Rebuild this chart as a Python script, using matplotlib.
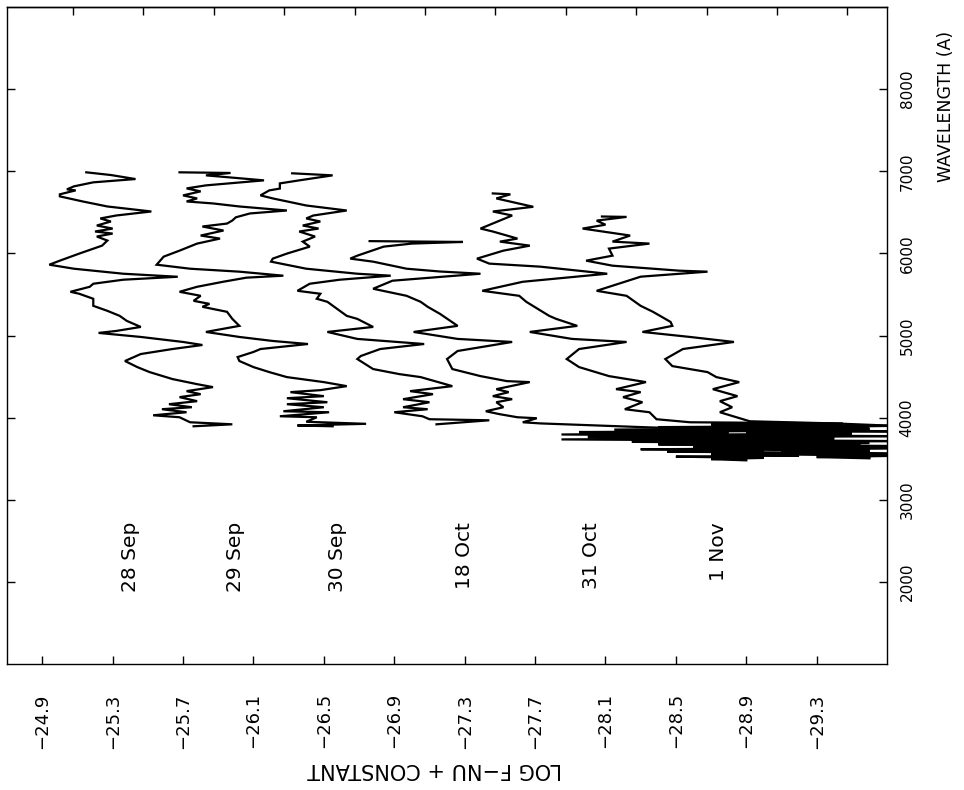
import numpy as np
import matplotlib
matplotlib.use("Agg")
import matplotlib.pyplot as plt

# spectra: wavelength (A) and log f-nu + constant
wl_28sep = [6988, 6955, 6906, 6866, 6817, 6780, 6768, 6720, 6695, 6633, 6572, 6511, 6462, 6426,
            6389, 6340, 6303, 6267, 6242, 6206, 6157, 6095, 5998, 5912, 5863, 5814, 5753, 5716,
            5680, 5631, 5594, 5533, 5509, 5448, 5362, 5301, 5240, 5179, 5105, 5056, 5032, 4983,
            4922, 4885, 4836, 4775, 4690, 4616, 4555, 4470, 4408, 4372, 4323, 4286, 4250, 4201,
            4164, 4127, 4103, 4066, 4029, 4005, 3944, 3919, 3895]
lf_28sep = [-25.15, -25.29, -25.43, -25.19, -25.08, -25.04, -25.09, -25.00, -25.00, -25.13, -25.27,
            -25.52, -25.32, -25.23, -25.29, -25.21, -25.30, -25.20, -25.30, -25.21, -25.27, -25.24,
            -25.11, -25.00, -24.94, -25.08, -25.36, -25.67, -25.36, -25.19, -25.17, -25.06, -25.11,
            -25.19, -25.19, -25.27, -25.34, -25.38, -25.46, -25.32, -25.22, -25.46, -25.70, -25.81,
            -25.64, -25.46, -25.37, -25.44, -25.51, -25.64, -25.78, -25.87, -25.72, -25.80, -25.68,
            -25.78, -25.62, -25.75, -25.58, -25.72, -25.53, -25.68, -25.74, -25.98, -25.76]

wl_29sep = [6988, 6980, 6951, 6890, 6829, 6792, 6756, 6707, 6670, 6633, 6609, 6572, 6523, 6487,
            6440, 6401, 6364, 6328, 6279, 6218, 6181, 6120, 6034, 5961, 5863, 5814, 5778, 5729,
            5705, 5656, 5594, 5533, 5484, 5423, 5386, 5350, 5289, 5203, 5118, 5044, 4983, 4934,
            4897, 4836, 4800, 4738, 4690, 4616, 4555, 4494, 4433, 4384, 4335, 4311, 4262, 4237,
            4188, 4164, 4127, 4078, 4066, 4017, 4005, 3950, 3925, 3905, 3895]
lf_29sep = [-25.68, -25.97, -25.83, -26.16, -25.83, -25.72, -25.80, -25.70, -25.78, -25.72, -25.87,
            -26.02, -26.29, -26.08, -26.00, -25.98, -25.95, -25.81, -25.93, -25.80, -25.91, -25.78,
            -25.68, -25.59, -25.55, -25.74, -26.02, -26.27, -26.06, -25.93, -25.78, -25.68, -25.80,
            -25.76, -25.85, -25.81, -25.95, -25.98, -26.02, -25.83, -26.02, -26.21, -26.41, -26.14,
            -26.10, -26.01, -26.02, -26.10, -26.19, -26.29, -26.50, -26.63, -26.48, -26.31, -26.50,
            -26.29, -26.52, -26.29, -26.50, -26.27, -26.53, -26.25, -26.46, -26.40, -26.74, -26.35,
            -26.55]

wl_30sep = [6976, 6951, 6890, 6853, 6790, 6768, 6707, 6670, 6584, 6523, 6462, 6426, 6389, 6340,
            6303, 6267, 6206, 6144, 6083, 5998, 5937, 5900, 5814, 5753, 5729, 5680, 5631, 5545,
            5509, 5448, 5411, 5240, 5203, 5105, 5044, 4959, 4897, 4836, 4751, 4714, 4592, 4530,
            4494, 4384, 4323, 4286, 4225, 4188, 4127, 4103, 4066, 4017, 3981, 3968, 3919]
lf_30sep = [-26.32, -26.55, -26.36, -26.25, -26.25, -26.19, -26.14, -26.21, -26.40, -26.63, -26.44,
            -26.40, -26.48, -26.38, -26.47, -26.36, -26.45, -26.38, -26.42, -26.29, -26.21, -26.20,
            -26.40, -26.69, -26.88, -26.59, -26.42, -26.35, -26.48, -26.46, -26.52, -26.63, -26.69,
            -26.78, -26.52, -26.69, -27.07, -26.82, -26.71, -26.69, -26.78, -26.93, -27.05, -27.23,
            -26.99, -27.12, -26.95, -27.10, -26.95, -27.09, -26.90, -27.06, -27.10, -27.44, -27.14]

wl_18oct = [6150, 6140, 6120, 6083, 5973, 5937, 5900, 5814, 5780, 5753, 5668, 5570, 5484, 5411,
            5350, 5264, 5118, 5044, 4959, 4922, 4812, 4714, 4592, 4506, 4445, 4433, 4347, 4311,
            4262, 4225, 4188, 4127, 4078, 4042, 4005, 3993, 3944, 3930, 3880, 3830]
lf_18oct = [-26.76, -27.29, -27.00, -26.84, -26.69, -26.65, -26.78, -26.97, -27.16, -27.39, -26.89,
            -26.78, -26.97, -27.05, -27.09, -27.16, -27.26, -27.01, -27.26, -27.57, -27.26, -27.20,
            -27.23, -27.39, -27.54, -27.67, -27.48, -27.55, -27.46, -27.57, -27.48, -27.52, -27.42,
            -27.50, -27.60, -27.71, -27.63, -27.73, -28.37, -29.75]

wl_31oct = [6731, 6720, 6670, 6568, 6511, 6462, 6303, 6267, 6181, 6144, 6095, 6034, 5937, 5876,
            5839, 5753, 5655, 5545, 5484, 5411, 5240, 5203, 5118, 5044, 4959, 4922, 4836, 4714,
            4616, 4506, 4433, 4347, 4311, 4250, 4188, 4103, 4066, 3981, 3944,
            3930, 3915, 3900, 3885, 3870, 3855, 3840, 3825, 3810, 3795, 3780, 3765, 3750, 3735,
            3720, 3705, 3690, 3675, 3660, 3645, 3630, 3615, 3600, 3585, 3570, 3555, 3540, 3525,
            3510, 3495, 3480]
lf_31oct = [-27.46, -27.56, -27.48, -27.69, -27.46, -27.57, -27.39, -27.46, -27.60, -27.50, -27.67,
            -27.52, -27.37, -27.44, -27.73, -28.11, -27.63, -27.40, -27.61, -27.65, -27.78, -27.82,
            -27.94, -27.67, -27.91, -28.22, -27.95, -27.88, -27.95, -28.12, -28.33, -28.16, -28.30,
            -28.20, -28.31, -28.21, -28.35, -28.39, -28.58,
            -29.45, -28.70, -29.70, -28.40, -29.10, -28.15, -29.30, -27.95, -28.80, -27.85, -29.00,
            -28.00, -29.40, -27.85, -29.10, -28.25, -29.60, -28.40, -29.20, -28.60, -29.50, -28.30,
            -29.00, -28.45, -29.60, -28.70, -29.20, -28.50, -29.00, -28.70, -28.90]

wl_1nov = [6450, 6445, 6400, 6350, 6303, 6218, 6144, 6120, 6059, 5973, 5912, 5851, 5790, 5778,
           5717, 5545, 5484, 5362, 5289, 5166, 5118, 5044, 4983, 4922, 4836, 4714, 4628, 4555,
           4494, 4433, 4347, 4262, 4201, 4127, 4066, 3956, 3930, 3900,
           3880, 3865, 3850, 3835, 3820, 3805, 3790, 3775, 3760, 3745, 3730, 3715, 3700, 3685,
           3670, 3655, 3640, 3625, 3610, 3595, 3580, 3565, 3550, 3535, 3520, 3505]
lf_1nov = [-28.08, -28.22, -28.05, -28.10, -27.97, -28.24, -28.14, -28.35, -28.12, -28.14, -27.99,
           -28.14, -28.52, -28.68, -28.30, -28.05, -28.22, -28.30, -28.37, -28.47, -28.48, -28.31,
           -28.58, -28.83, -28.54, -28.44, -28.48, -28.68, -28.73, -28.86, -28.71, -28.85, -28.75,
           -28.82, -28.75, -28.92, -29.40, -29.75,
           -28.80, -29.60, -28.60, -29.75, -28.90, -29.50, -28.35, -29.75, -28.70, -29.40, -28.55,
           -29.75, -28.90, -29.55, -28.75, -29.75, -29.05, -29.75, -28.95, -29.60, -29.10, -29.75,
           -29.20, -29.75, -29.30, -29.60]

dates = ["28 Sep", "29 Sep", "30 Sep", "18 Oct", "31 Oct", "1 Nov"]
date_x = [-25.40, -26.00, -26.58, -27.30, -28.02, -28.74]

lf_ticks = [-24.9, -25.3, -25.7, -26.1, -26.5, -26.9, -27.3, -27.7, -28.1, -28.5, -28.9, -29.3]
wl_ticks = [2000, 3000, 4000, 5000, 6000, 7000, 8000]

fig = plt.figure(figsize=(9.64, 7.9), dpi=100)
ax = fig.add_axes([0.0073, 0.1595, 0.9129, 0.8315])

spectra = [(lf_28sep, wl_28sep), (lf_29sep, wl_29sep), (lf_30sep, wl_30sep),
           (lf_18oct, wl_18oct), (lf_31oct, wl_31oct), (lf_1nov, wl_1nov)]
for lf, wl in spectra:
    ax.plot(lf, wl, color="black", lw=1.6, solid_joinstyle="miter")

ax.set_xlim(-24.7, -29.7)
ax.set_ylim(1000, 9000)

for d, x in zip(dates, date_x):
    ax.text(x, 2730, d, rotation=90, ha="center", va="top", fontsize=14.5)

ax.set_xticks(lf_ticks)
ax.set_xticklabels([f"\u2212{abs(v):.1f}" for v in lf_ticks], rotation=90)
ax.tick_params(axis="x", direction="in", length=6, width=1, pad=21, labelsize=13)

ax.set_yticks(wl_ticks)
ax.set_yticklabels([str(v) for v in wl_ticks], rotation=90, va="center")
ax.tick_params(axis="y", direction="in", length=6, width=1, left=True, right=True,
               labelleft=False, labelright=True, pad=9, labelsize=11)

top = ax.secondary_xaxis("top")
top.set_xticks(np.arange(-25.075, -29.6, -0.4))
top.tick_params(direction="in", length=6, width=1, labeltop=False)
top.spines["top"].set_linewidth(1.0)

for s in ax.spines.values():
    s.set_linewidth(1.0)

fig.text(0.451, 0.026, "LOG F\u2212NU + CONSTANT", rotation=180, ha="center", va="center",
         fontsize=15)
fig.text(0.981, 0.865, "WAVELENGTH (A)", rotation=90, ha="center", va="center", fontsize=12.5)

fig.savefig("out.png", dpi=100)
